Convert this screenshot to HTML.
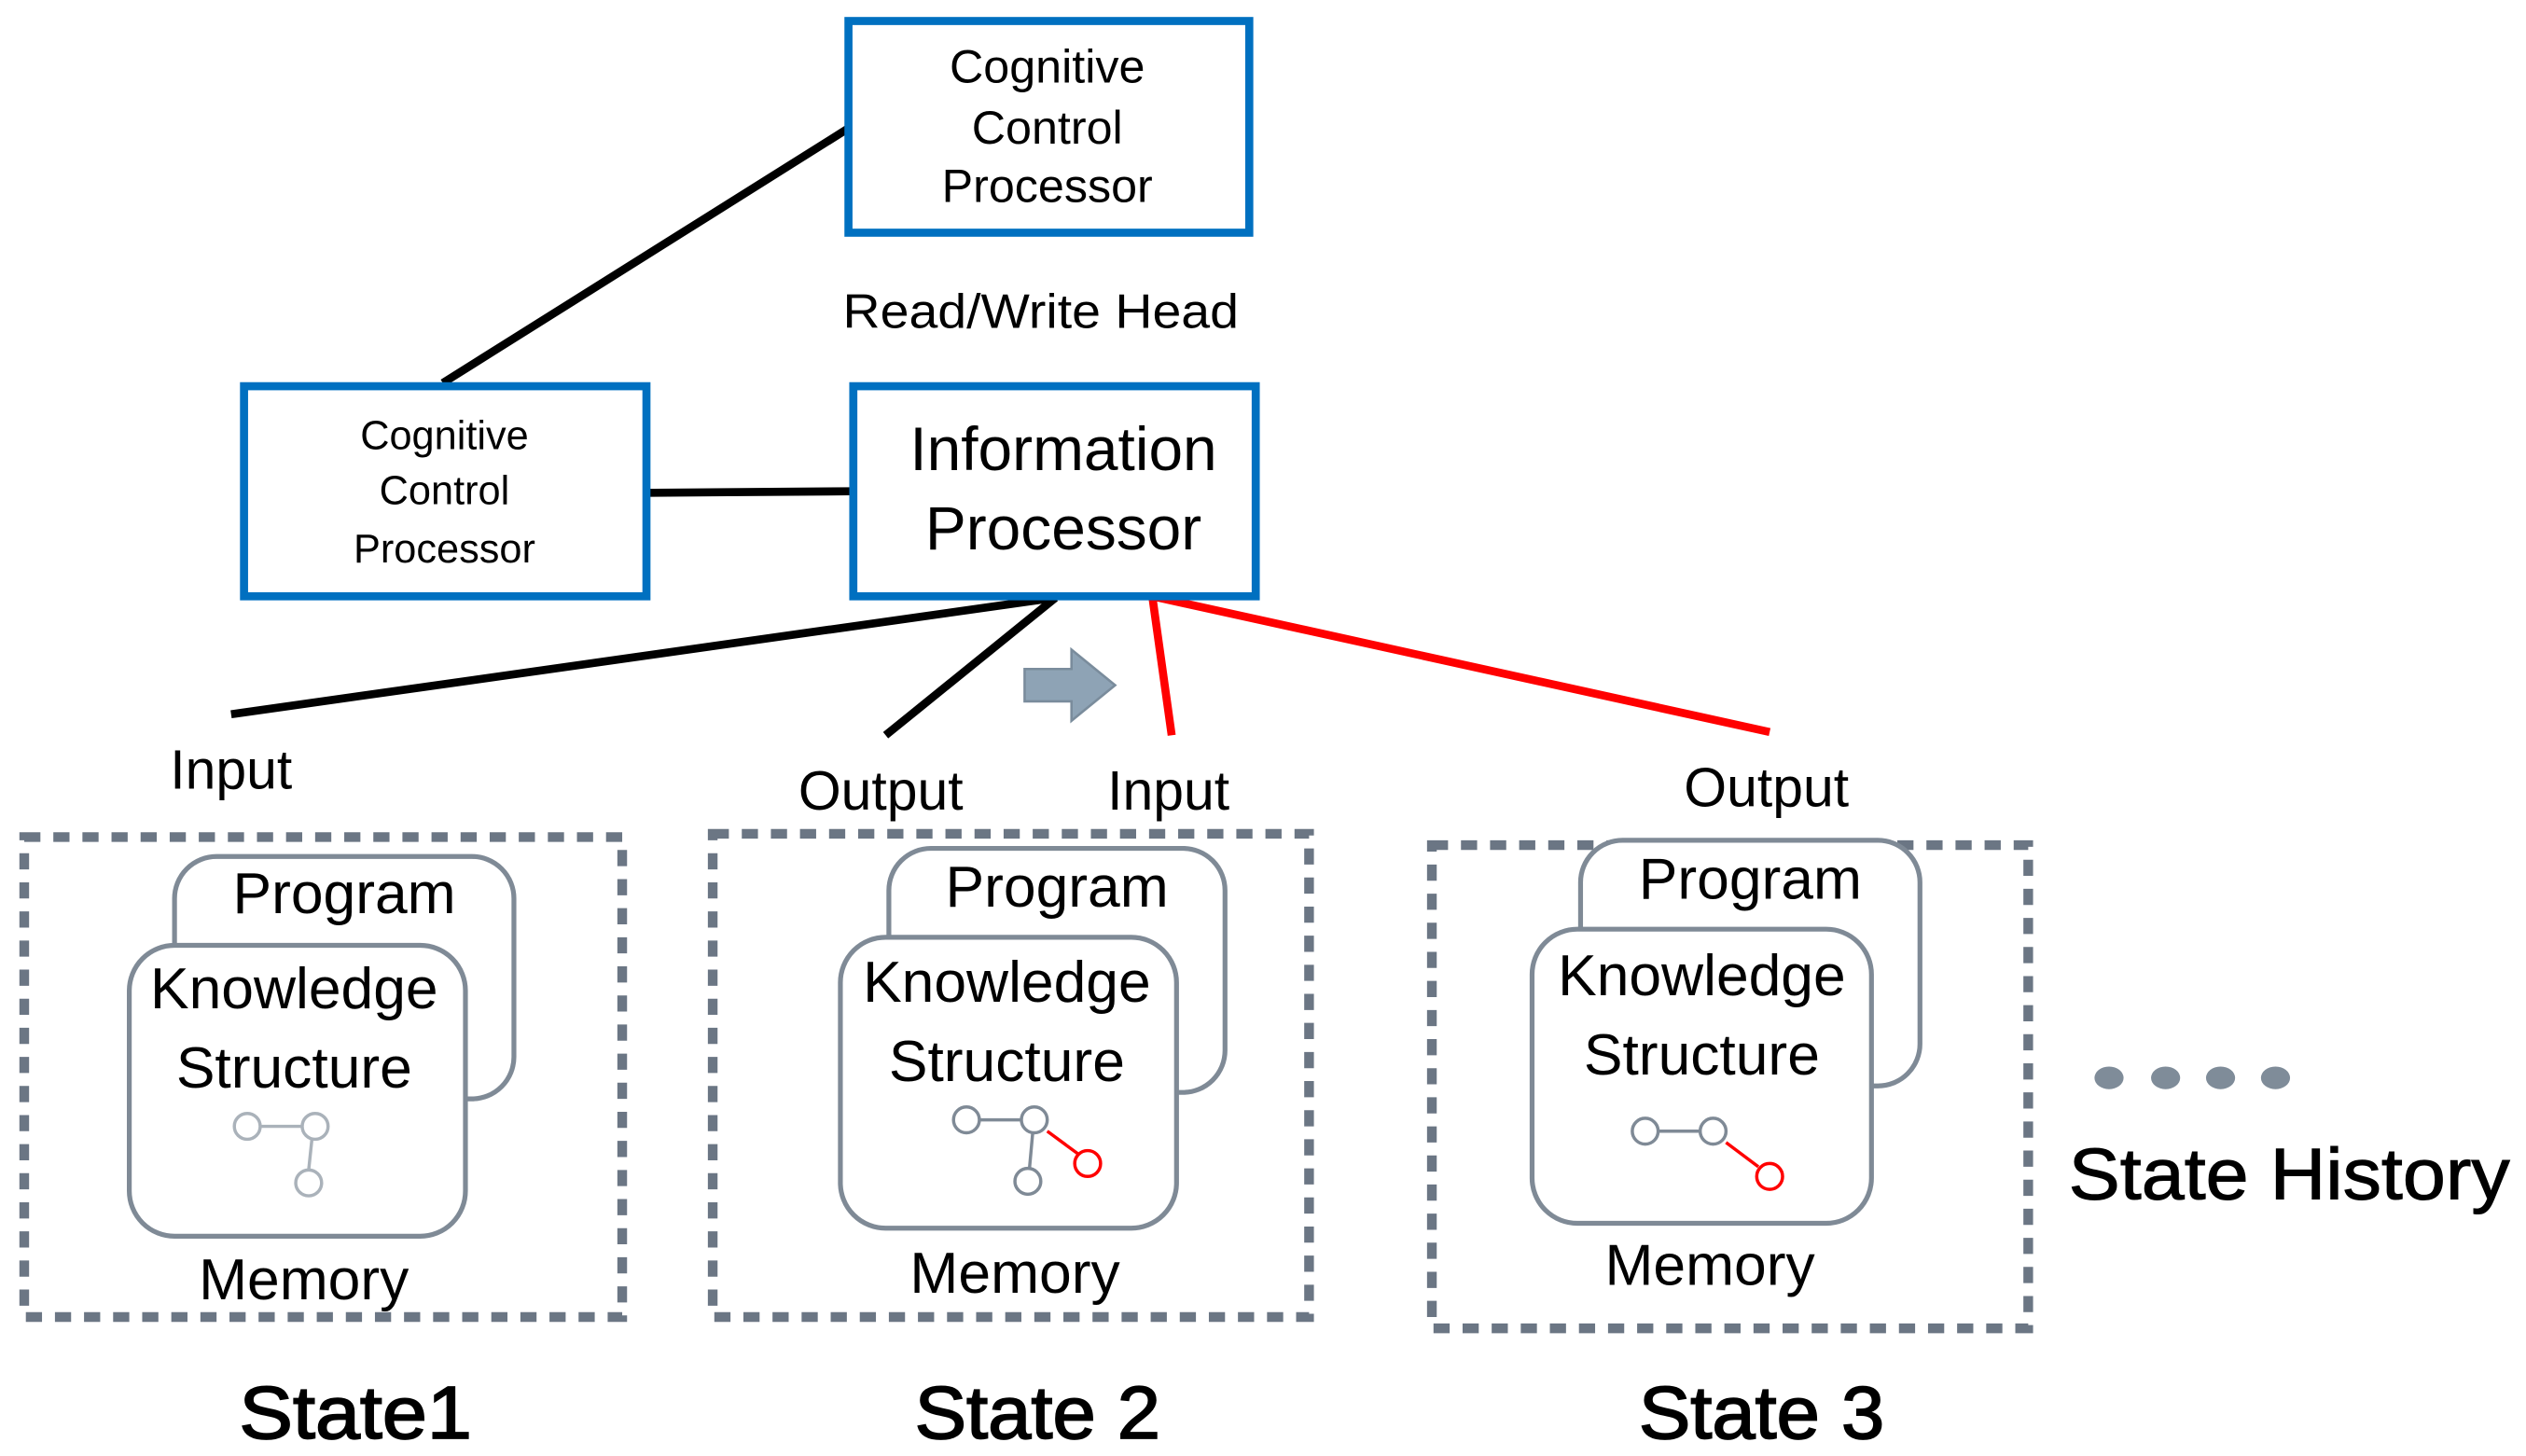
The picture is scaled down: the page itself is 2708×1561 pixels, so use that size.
<!DOCTYPE html>
<html><head><meta charset="utf-8"><style>
html,body{margin:0;padding:0;background:#fff;}
svg{display:block;}
text{font-family:"Liberation Sans Narrow","Liberation Sans",sans-serif;fill:#000;}
</style></head><body>
<svg width="2708" height="1561" viewBox="0 0 1563 901" preserveAspectRatio="none" xmlns="http://www.w3.org/2000/svg">
<g stroke="#000" stroke-width="5" fill="none" stroke-linecap="butt">
<line x1="274" y1="237" x2="524" y2="80"/>
<line x1="396" y1="305" x2="527" y2="304"/>
<line x1="652" y1="370" x2="143" y2="442"/>
<line x1="653" y1="370" x2="548" y2="455"/>
</g>
<g stroke="#f00" stroke-width="5" fill="none">
<line x1="713" y1="369" x2="725" y2="455"/>
<line x1="713" y1="369" x2="1095" y2="453"/>
</g>
<g fill="#fff" stroke="#0070C0" stroke-width="5">
<rect x="525" y="13" width="248" height="131"/>
<rect x="151" y="239" width="249" height="130"/>
<rect x="528" y="239" width="249" height="130"/>
</g>
<g text-anchor="middle" font-size="29">
<text x="648" y="51">Cognitive</text>
<text x="648" y="89">Control</text>
<text x="648" y="125">Processor</text>
</g>
<text x="644" y="203" text-anchor="middle" font-size="30" textLength="245" lengthAdjust="spacingAndGlyphs">Read/Write Head</text>
<g text-anchor="middle" font-size="25">
<text x="275" y="278">Cognitive</text>
<text x="275" y="312">Control</text>
<text x="275" y="348">Processor</text>
</g>
<g text-anchor="middle" font-size="38">
<text x="658" y="291">Information</text>
<text x="658" y="340">Processor</text>
</g>
<path d="M634,414 L663,414 L663,402 L690,424 L663,446 L663,434 L634,434 Z" fill="#8EA3B5" stroke="#7a8c9c" stroke-width="1.5"/>
<g text-anchor="middle" font-size="34">
<text x="143" y="488">Input</text>
<text x="545" y="501">Output</text>
<text x="723" y="501">Input</text>
<text x="1093" y="499">Output</text>
</g>
<g fill="none" stroke="#6B7684" stroke-width="6" stroke-dasharray="10 8">
<rect x="15" y="518" width="370" height="297"/>
<rect x="441" y="516" width="369" height="299"/>
<rect x="886" y="523" width="369" height="299"/>
</g>
<g fill="#fff" stroke="#7f8a96" stroke-width="3">
<rect x="108" y="530" width="210" height="150" rx="26"/>
<rect x="80" y="585" width="208" height="180" rx="28"/>
<rect x="550" y="525" width="208" height="151" rx="26"/>
<rect x="520" y="580" width="208" height="180" rx="28"/>
<rect x="978" y="520" width="210" height="152" rx="26"/>
<rect x="948" y="575" width="210" height="182" rx="28"/>
</g>
<g text-anchor="middle" font-size="36">
<text x="213" y="565">Program</text>
<text x="182" y="624">Knowledge</text>
<text x="182" y="673">Structure</text>
<text x="188" y="804">Memory</text>
<text x="654" y="561">Program</text>
<text x="623" y="620">Knowledge</text>
<text x="623" y="669">Structure</text>
<text x="628" y="800">Memory</text>
<text x="1083" y="556">Program</text>
<text x="1053" y="616">Knowledge</text>
<text x="1053" y="665">Structure</text>
<text x="1058" y="795">Memory</text>
</g>
<g fill="none" stroke-width="2">
<g stroke="#aab2ba">
<line x1="161" y1="697" x2="187" y2="697"/><line x1="193" y1="705" x2="191" y2="724"/>
<circle cx="153" cy="697" r="8"/><circle cx="195" cy="697" r="8"/><circle cx="191" cy="732" r="8"/>
</g>
<g stroke="#7f8a96">
<line x1="606" y1="693" x2="632" y2="693"/><line x1="639" y1="701" x2="637" y2="723"/>
<circle cx="598" cy="693" r="8"/><circle cx="640" cy="693" r="8"/><circle cx="636" cy="731" r="8"/>
<line x1="1026" y1="700" x2="1052" y2="700"/>
<circle cx="1018" cy="700" r="8"/><circle cx="1060" cy="700" r="8"/>
</g>
<g stroke="#f00">
<line x1="648" y1="700" x2="667" y2="714"/><circle cx="673" cy="720" r="8"/>
<line x1="1068" y1="707" x2="1088" y2="722"/><circle cx="1095" cy="728" r="8"/>
</g>
</g>
<g fill="#7f8c99">
<ellipse cx="1305" cy="667" rx="9" ry="7"/>
<ellipse cx="1340" cy="667" rx="9" ry="7"/>
<ellipse cx="1374" cy="667" rx="9" ry="7"/>
<ellipse cx="1408" cy="667" rx="9" ry="7"/>
</g>
<text x="1280" y="742" font-size="45" textLength="273" lengthAdjust="spacingAndGlyphs" stroke="#000" stroke-width="0.6">State History</text>
<g text-anchor="middle" font-size="46" stroke="#000" stroke-width="1">
<text x="220" y="890" textLength="144" lengthAdjust="spacingAndGlyphs">State1</text>
<text x="642" y="890" textLength="152" lengthAdjust="spacingAndGlyphs">State 2</text>
<text x="1090" y="890" textLength="152" lengthAdjust="spacingAndGlyphs">State 3</text>
</g>
</svg>
</body></html>
